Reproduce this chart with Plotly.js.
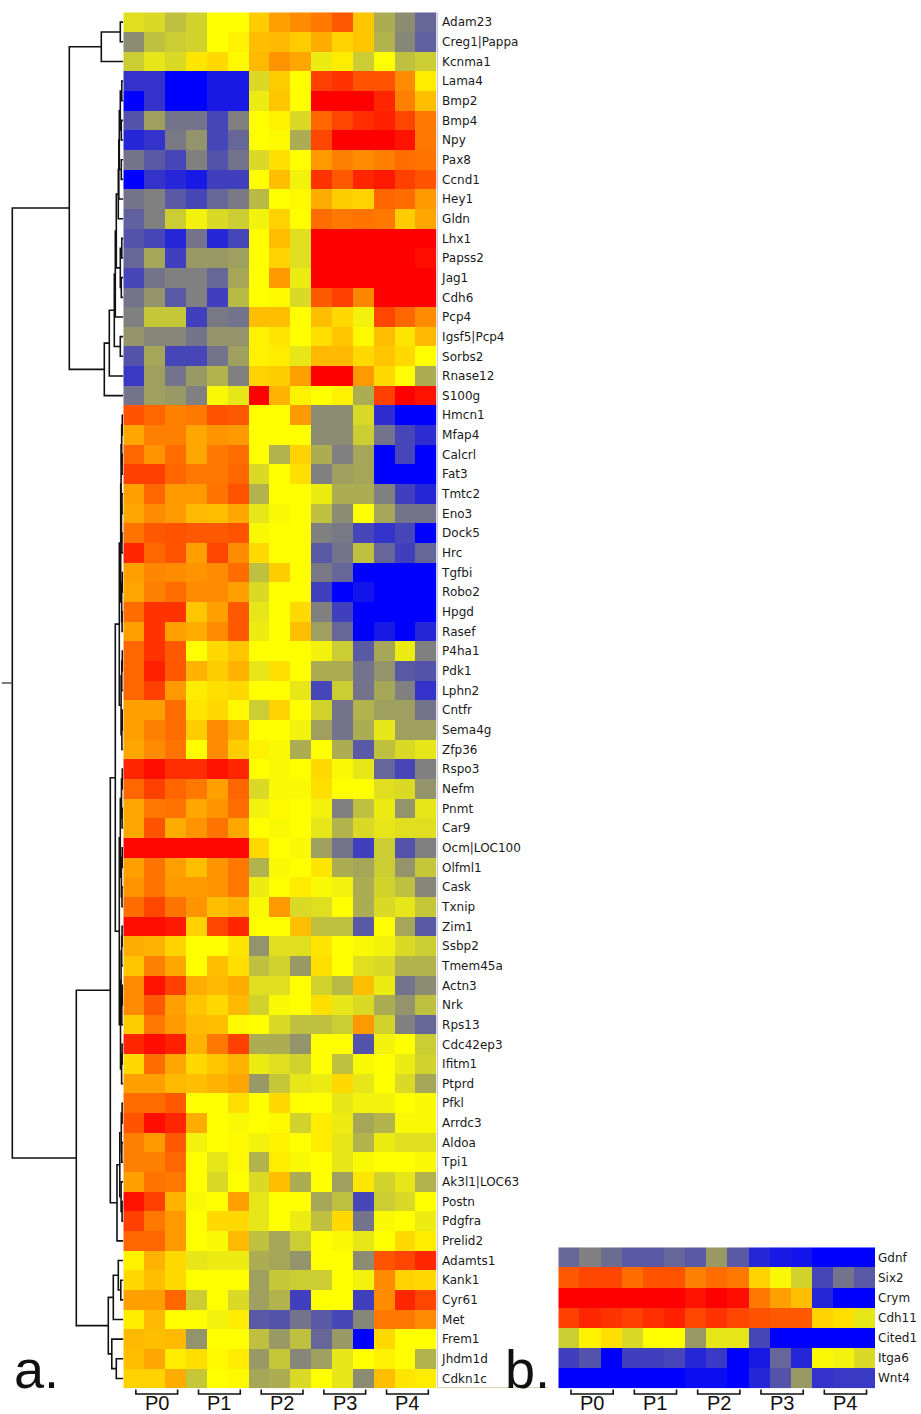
<!DOCTYPE html>
<html><head><meta charset="utf-8">
<script src="https://cdn.plot.ly/plotly-3.0.1.min.js"></script>
<style>html,body{margin:0;padding:0;background:#fff}#chart{width:921px;height:1414px}</style>
</head><body><div id="chart"></div>
<script>
// ---------------- DATA ----------------
const stages = ['P0', 'P1', 'P2', 'P3', 'P4'];
const samplesPerStage = 3;

const genesA = ['Adam23','Creg1|Pappa','Kcnma1','Lama4','Bmp2','Bmp4','Npy','Pax8','Ccnd1','Hey1','Gldn','Lhx1','Papss2','Jag1','Cdh6','Pcp4','Igsf5|Pcp4','Sorbs2','Rnase12','S100g','Hmcn1','Mfap4','Calcrl','Fat3','Tmtc2','Eno3','Dock5','Hrc','Tgfbi','Robo2','Hpgd','Rasef','P4ha1','Pdk1','Lphn2','Cntfr','Sema4g','Zfp36','Rspo3','Nefm','Pnmt','Car9','Ocm|LOC100','Olfml1','Cask','Txnip','Zim1','Ssbp2','Tmem45a','Actn3','Nrk','Rps13','Cdc42ep3','Ifitm1','Ptprd','Pfkl','Arrdc3','Aldoa','Tpi1','Ak3l1|LOC63','Postn','Pdgfra','Prelid2','Adamts1','Kank1','Cyr61','Met','Frem1','Jhdm1d','Cdkn1c'];

// relative expression (blue = low, yellow = mid, red = high), one row per gene, 15 samples
const valuesA = [
[-0.25,-0.3,-0.5,-0.35,0,0,0.4,0.75,0.9,1.05,1.3,0.45,-0.65,-0.9,-1.2],
[-0.9,-0.5,-0.4,-0.35,0,0.1,0.5,0.55,0.4,0.65,0.35,0.45,-0.6,-0.95,-1.25],
[-0.4,-0.2,-0.3,0.2,0.3,0.05,0.55,0.85,0.7,-0.15,0.15,-0.4,0,-0.5,-0.4],
[-1.6,-1.6,-2,-2,-1.8,-1.8,-0.3,0.4,0,1.5,1.6,1.35,1.35,0.9,0.15],
[-2,-1.6,-2,-2,-1.8,-1.8,-0.15,0.45,0,2,2,2,1.7,1.0,0.5],
[-1.35,-0.75,-1.1,-1.1,-1.45,-1.0,0,0.1,-0.3,1.2,1.45,1.65,1.75,1.45,1.05],
[-1.7,-1.6,-1.05,-0.85,-1.45,-1.2,0,0.05,-0.65,1.45,2,2,2,1.85,1.05],
[-1.1,-1.3,-1.45,-1.0,-1.35,-1.1,-0.3,0.25,0,0.8,1.0,0.9,1.0,1.15,1.1],
[-2,-1.6,-1.7,-1.8,-1.5,-1.5,0,0.5,-0.1,1.6,1.3,1.7,1.8,1.5,1.35],
[-1.1,-1.0,-1.3,-1.45,-1.2,-1.05,-0.55,0,0.05,0.65,0.4,0.35,1.2,1.15,0.8],
[-1.25,-1.0,-0.4,-0.1,-0.3,-0.4,-0.1,0.35,0,1.15,1.05,1.1,1.05,0.4,0.7],
[-1.35,-1.45,-1.7,-1.1,-1.7,-1.45,0,0.5,-0.25,2,2,2,2,2,2],
[-1.2,-0.7,-1.5,-0.8,-0.8,-0.75,0,0.35,-0.25,2,2,2,2,2,1.9],
[-1.45,-1.1,-1.0,-1.0,-1.2,-0.7,0,0.8,-0.15,2,2,2,2,2,2],
[-1.1,-0.85,-1.3,-1.0,-1.5,-0.55,0,0.05,-0.3,1.3,1.5,0.95,2,2,2],
[-1.0,-0.45,-0.45,-1.5,-1.05,-1.1,0.5,0.5,0,0.5,0.3,-0.1,1.45,1.2,0.9],
[-0.85,-0.95,-0.95,-1.1,-0.85,-0.85,0.1,0.2,0,0.25,0.45,0.05,0.5,0.2,0.55],
[-1.35,-0.7,-1.45,-1.45,-1.1,-0.75,0.1,0.15,-0.2,0.55,0.55,0.3,0.45,0.3,0],
[-1.55,-0.75,-1.1,-0.8,-0.6,-1.0,0.35,0.4,0.75,2,2,0.8,0.3,0,-0.65],
[-1.1,-0.75,-0.8,-1.0,-0.05,-0.2,2,0.6,0.1,0,0.1,-0.65,1.5,2,1.85],
[1.35,1.2,1.0,1.05,1.35,1.3,0,0,0.8,-0.9,-0.9,-0.3,-1.65,-2,-2],
[0.7,1.0,1.0,0.7,0.85,0.8,0,0,0,-0.9,-0.9,-0.4,-1.1,-1.45,-1.65],
[1.2,0.85,1.15,0.7,1.05,1.15,0,-0.6,0.35,-0.65,-1.0,-0.7,-2,-1.45,-2],
[1.5,1.5,1.2,1.05,1.05,1.2,-0.3,0,0.25,-1.0,-0.75,-0.7,-2,-2,-2],
[0.75,1.2,0.8,0.8,1.1,1.35,-0.6,0,0,-0.15,-0.65,-0.65,-1.0,-1.5,-1.7],
[0.7,0.9,0.8,0.55,0.5,0.7,-0.2,-0.05,0,-0.5,-0.9,0,-0.7,-1.1,-1.1],
[1.1,1.3,1.35,1.3,1.3,1.35,-0.05,0,0,-1.0,-1.05,-1.45,-1.6,-1.45,-2],
[1.7,1.2,1.35,0.75,1.45,0.9,0.3,0,0,-1.3,-1.1,-0.5,-1.2,-1.5,-1.2],
[0.75,0.95,0.9,0.85,0.9,1.15,-0.5,0.4,0,-1.05,-1.2,-2,-2,-2,-2],
[0.7,1.0,1.15,0.9,0.9,0.75,-0.3,0,0,-1.5,-2,-1.85,-2,-2,-2],
[1.15,1.6,1.6,0.45,0.75,1.3,-0.2,0,0.3,-1.0,-1.5,-2,-2,-2,-2],
[0.75,1.6,0.75,0.65,0.9,1.3,-0.15,0,0.5,-0.75,-1.2,-2,-1.8,-2,-1.7],
[1.2,1.6,1.3,0,0.3,0.45,0,0,0,-0.1,-0.4,-1.3,-0.7,-0.15,-1.0],
[1.2,1.75,1.3,0.6,0.4,0.6,-0.2,0.25,0,-0.65,-0.65,-1.1,-0.85,-1.3,-1.35],
[1.2,1.5,0.8,0.15,0.25,0.3,0,0,-0.2,-1.45,-0.4,-1.1,-0.7,-1.0,-1.6],
[0.75,0.75,1.15,0.2,0.3,0.05,-0.4,0.35,0,-0.35,-1.1,-0.6,-0.75,-0.75,-1.1],
[0.75,1.0,1.15,0.4,0.9,0.6,0,0,-0.1,-0.75,-1.1,-0.65,-0.2,-0.75,-0.75],
[0.7,0.9,1.1,0,0.9,0.4,0.1,-0.05,-0.65,0,-0.65,-1.3,-0.5,-0.3,-0.2],
[1.7,1.9,1.65,1.65,1.85,1.7,0,-0.05,0,0.3,-0.05,-0.2,-1.2,-1.45,-1.0],
[1.2,1.5,1.2,1.05,0.75,1.2,-0.3,-0.05,-0.05,0.25,0,0,-0.25,-0.3,-0.85],
[0.7,1.05,1.1,0.7,0.85,1.15,-0.1,0.05,0,-0.1,-1.0,-0.5,-0.15,-0.85,-0.2],
[0.7,1.35,0.65,0.85,1.1,0.7,0,-0.05,0,-0.2,-0.6,-0.3,-0.2,-0.25,-0.25],
[1.95,1.95,1.95,1.95,1.95,1.95,0.3,0,-0.05,-0.75,-1.1,-1.5,-0.4,-1.35,-1.0],
[0.75,1.1,0.75,0.5,0.85,1.05,-0.6,-0.05,0,0.2,-0.65,-0.7,-0.4,-0.85,-0.45],
[0.85,1.1,0.8,0.8,0.85,1.05,-0.15,0,0.15,-0.05,-0.1,-0.65,-0.35,-0.5,-0.95],
[1.15,1.45,1.1,0.85,0.5,0.6,-0.05,0.8,-0.3,-0.25,0,-0.65,-0.3,-0.2,-0.45],
[1.9,1.9,1.8,0.35,1.45,1.7,0,0,0.5,-0.5,-0.5,-1.3,0,-0.7,-1.3],
[0.65,0.6,0.35,0,0,0.2,-0.85,-0.25,-0.25,0.2,0,-0.05,-0.1,-0.3,-0.4],
[0.45,1.0,0.7,0,0.5,0.25,-0.5,-0.35,-0.8,0.25,0,-0.25,-0.3,-0.6,-0.6],
[0.9,1.85,1.5,0.65,0.55,0.65,-0.25,-0.25,0,-0.35,-0.55,0.5,-0.15,-1.1,-0.9],
[0.9,1.3,0.75,0.45,0.3,0.55,-0.35,-0.05,0,0.25,-0.2,-0.3,-0.65,-0.85,-0.5],
[0.4,1.05,0.8,0.55,0.5,0.05,0,-0.3,-0.5,-0.5,-0.4,0.8,-0.35,-1.0,-1.2],
[1.7,1.9,1.75,0.6,1.05,1.5,-0.65,-0.65,-0.85,0,0,-1.35,-0.1,0,-0.4],
[0.3,1.15,0.7,0.3,0.45,0.6,-0.15,-0.25,-0.35,0,-0.5,-0.05,0,-0.15,-0.35],
[0.75,0.75,0.55,0.5,0.6,0.7,-0.8,-0.45,-0.2,-0.15,0.3,-0.2,0,-0.3,-0.7],
[1.15,1.15,1.3,0,0,0.25,0,0.3,0,0,-0.2,-0.1,-0.1,0,-0.05],
[1.35,1.9,1.7,0.65,0,-0.05,0,0.05,-0.35,0.15,-0.15,-0.7,-0.6,-0.05,-0.05],
[1.0,0.8,1.3,-0.1,0,0.05,-0.1,0.1,0,0.15,-0.2,-0.6,-0.15,-0.25,-0.25],
[1.0,1.0,1.2,0,-0.2,0.05,-0.6,0.15,-0.05,0,-0.2,-0.05,0,0,-0.05],
[0.75,1.1,1.05,0,-0.3,0,-0.3,0.5,-0.65,0,-0.75,0.2,-0.35,-0.2,-0.6],
[1.85,1.5,0.6,-0.05,0,0.75,-0.2,0,0,-0.7,-0.5,-1.45,-0.4,-0.3,0],
[1.5,1.05,0.8,0,0.3,0.3,-0.2,0,-0.15,-0.5,0.3,-1.1,-0.05,0,-0.15],
[1.2,1.2,0.8,0,-0.05,0.55,-0.5,-0.7,-0.4,0,-0.05,-0.2,0,0.3,0.15],
[0.1,0.6,0.3,-0.2,-0.15,-0.15,-0.65,-0.7,-0.85,0,0,-0.9,1.35,1.45,1.7],
[0.3,0.5,0.3,0,0,0,-0.75,-0.45,-0.4,-0.4,0,-0.1,0.9,0.35,0.3],
[0.75,0.75,1.2,-0.4,0,-0.3,-0.75,-0.6,-1.5,0,0,-1.5,0.9,1.7,1.45],
[0.15,0.55,0,0,-0.1,0.15,-1.3,-1.35,-1.1,-1.3,-1.45,-0.95,1.05,1.05,0.9],
[0.55,0.5,0.55,-0.85,0,0,-0.5,-0.8,-0.5,-1.2,-0.8,-2,0.3,0,0],
[0.5,0.7,0.15,0.25,0.05,0.15,-0.8,-0.45,-0.95,-0.75,-0.2,0,0.1,0,-0.6],
[0.35,0.35,0.65,-0.45,0,0.05,-0.7,-0.65,-0.3,0,-0.2,-0.9,0.5,0.2,0.15]
];

const genesB = ['Gdnf','Six2','Crym','Cdh11','Cited1','Itga6','Wnt4'];
const valuesB = [
[-1.2,-1.0,-1.15,-1.3,-1.3,-1.2,-1.3,-0.8,-1.3,-1.7,-1.8,-1.85,-2,-2,-2],
[1.3,1.45,1.45,1.15,1.35,1.35,1.0,1.15,1.05,0.35,-0.05,-0.35,-1.45,-1.1,-1.3],
[2,2,2,2,2,2,1.85,2,1.9,1.05,0.75,0.5,-1.7,-2,-2],
[1.5,1.7,1.6,1.5,1.65,1.75,1.45,1.6,1.45,1.35,1.3,1.3,0.35,0.25,-0.2],
[-0.4,0.1,0.25,-0.3,0,0,-0.8,-0.2,-0.2,-1.45,-2,-2,-2,-2,-2],
[-1.5,-1.35,-2,-1.5,-1.5,-1.45,-1.7,-1.55,-2,-1.8,-1.2,-1.7,-0.05,-0.1,-0.3],
[-2,-2,-2,-2,-2,-2,-1.9,-1.9,-2,-1.7,-1.35,-0.8,-1.6,-1.55,-1.55]
];

// gene dendrogram of panel a: [mergeDistance, left, right]; numbers are row indices of genesA
const dendroA = [111,
  [54,
    [22, [3, 0, 1], 2],
    [19, [14, [9, [8, [7, [5, [4.5, [4, [3, [1.5, 3, 4], [2, 5, 6]], [2, 7, 8]], 9], 10], [3, [1.5, 11, 12], [2, 13, 14]]], 15], [3, 16, 17]], 18], 19]
  ],
  [47,
    [13,
      [8,
        [4,
          [2.6, [2.2, [1.6, [1, 20, 21], [1.2, 22, 23]], [1.8, [1.3, 24, 25], [1.4, 26, 27]]], [1.6, [1, 28, 29], [1.2, 30, 31]]],
          [2.2, [1.5, [1, 32, 33], 34], [1.4, [1, 35, 36], 37]]
        ],
        [4,
          [3, [1.8, [1, 38, 39], [1.2, 40, 41]], [1.9, [1.1, 42, 43], [1.3, 44, 45]]],
          [2.8, [2.2, [1.6, [1.2, 46, 47], 48], [1.5, [1, 49, 50], 51]], [1.7, [1.2, 52, 53], 54]]
        ]
      ],
      [6.3, [3.5, [2, [1.2, 55, 56], [1.5, 57, 58]], [2.2, 59, [1.2, 60, 61]]], 62]
    ],
    [15, [10, [5, 63, [2.5, 64, 65]], 66], [11.5, 67, [7, 68, 69]]]
  ]
];

// ---------------- GEOMETRY (pixels of the 921x1414 page) ----------------
const W = 921, H = 1414;
const mainL = 123.3, mainR = 436.7, mainT = 12.3, mainB = 1388.3;
const bL = 558.3, bR = 875, bT = 1247.3;
const px = v => v / W, py = v => 1 - v / H;

const nCols = stages.length * samplesPerStage;
const colIdx = Array.from({length: nCols}, (_, i) => i);
const rowIdxA = genesA.map((_, i) => i);
const rowIdxB = genesB.map((_, i) => i);

// dendrogram segments from the tree
const segX = [], segY = [];
function walk(node) {
  if (typeof node === 'number') return {y: node, d: 0};
  const [h, a, b] = node;
  const A = walk(a), B = walk(b);
  segX.push(A.d, h, h, B.d, null);
  segY.push(A.y, A.y, B.y, B.y, null);
  return {y: (A.y + B.y) / 2, d: h};
}
const root = walk(dendroA);

const cs = [[0, 'rgb(0,0,255)'], [0.5, 'rgb(255,255,0)'], [1, 'rgb(255,0,0)']];

const traces = [
  {type: 'heatmap', z: valuesA, x: colIdx, y: rowIdxA, xaxis: 'x', yaxis: 'y',
   zmin: -2, zmax: 2, colorscale: cs, showscale: false, hoverinfo: 'skip'},
  {type: 'heatmap', z: valuesB, x: colIdx, y: rowIdxB, xaxis: 'x2', yaxis: 'y2',
   zmin: -2, zmax: 2, colorscale: cs, showscale: false, hoverinfo: 'skip'},
  {type: 'scatter', mode: 'lines', x: segX, y: segY, xaxis: 'x3', yaxis: 'y3',
   line: {color: '#111', width: 1.6}, hoverinfo: 'skip', connectgaps: false},
  {type: 'scatter', mode: 'lines', x: [root.d + 10.5, root.d], y: [root.y, root.y], xaxis: 'x3', yaxis: 'y3',
   line: {color: '#555', width: 1.6}, hoverinfo: 'skip'}
];

const labelFont = {family: 'DejaVu Sans, Verdana, sans-serif', size: 12, color: '#1a1a1a'};
const hidden = {showgrid: false, zeroline: false, showticklabels: false, ticks: '', showline: false};

const shapes = [], annotations = [];
function brackets(xref) {
  stages.forEach((s, g) => {
    const x0 = g * samplesPerStage + 0.1, x1 = g * samplesPerStage + 2.1;
    shapes.push({type: 'path', xref: xref, yref: 'paper',
      path: `M ${x0},${py(1389.5)} L ${x0},${py(1394)} L ${x1},${py(1394)} L ${x1},${py(1389.5)}`,
      line: {color: '#111', width: 1.6}});
    annotations.push({xref: xref, yref: 'paper', x: (x0 + x1) / 2, y: py(1402.5), text: s,
      showarrow: false, xanchor: 'center', yanchor: 'middle',
      font: {family: 'Liberation Sans, Arial, sans-serif', size: 20, color: '#111'}});
  });
}
brackets('x');
brackets('x2');
shapes.push({type: 'line', xref: 'paper', yref: 'paper', x0: px(437), x1: px(548), y0: py(1387.5), y1: py(1387.5),
  line: {color: '#d8d8a8', width: 1}});
annotations.push({xref: 'paper', yref: 'paper', x: px(12), y: py(1401), text: 'a.', showarrow: false,
  xanchor: 'left', yanchor: 'bottom', font: {family: 'Liberation Sans, Arial, sans-serif', size: 54, color: '#111'}});
annotations.push({xref: 'paper', yref: 'paper', x: px(503), y: py(1401), text: 'b.', showarrow: false,
  xanchor: 'left', yanchor: 'bottom', font: {family: 'Liberation Sans, Arial, sans-serif', size: 54, color: '#111'}});

const layout = {
  width: W, height: H, margin: {l: 0, r: 0, t: 0, b: 0},
  paper_bgcolor: '#fff', plot_bgcolor: '#fff', showlegend: false,
  xaxis: Object.assign({domain: [px(mainL), px(mainR)], range: [-0.5, nCols - 0.5], anchor: 'y'}, hidden),
  yaxis: {domain: [py(mainB), py(mainT)], range: [genesA.length - 0.5, -0.5], side: 'right', anchor: 'x',
    tickvals: rowIdxA, ticktext: genesA, ticks: '', showgrid: false, zeroline: false, ticklabelstandoff: 2,
    showline: true, linecolor: '#c8c8dc', linewidth: 1, tickfont: labelFont},
  xaxis2: Object.assign({domain: [px(bL), px(bR)], range: [-0.5, nCols - 0.5], anchor: 'y2'}, hidden),
  yaxis2: {domain: [py(mainB), py(bT)], range: [genesB.length - 0.5, -0.5], side: 'right', anchor: 'x2',
    tickvals: rowIdxB, ticktext: genesB, ticks: '', showgrid: false, zeroline: false, showline: false,
    ticklabelstandoff: 2, tickfont: labelFont},
  xaxis3: Object.assign({domain: [0, px(mainL)], range: [mainL, 0], anchor: 'y3'}, hidden),
  yaxis3: Object.assign({domain: [py(mainB), py(mainT)], range: [genesA.length - 0.5, -0.5], anchor: 'x3'}, hidden),
  shapes: shapes, annotations: annotations
};

Plotly.newPlot('chart', traces, layout, {staticPlot: true, displayModeBar: false});
</script>
</body></html>
